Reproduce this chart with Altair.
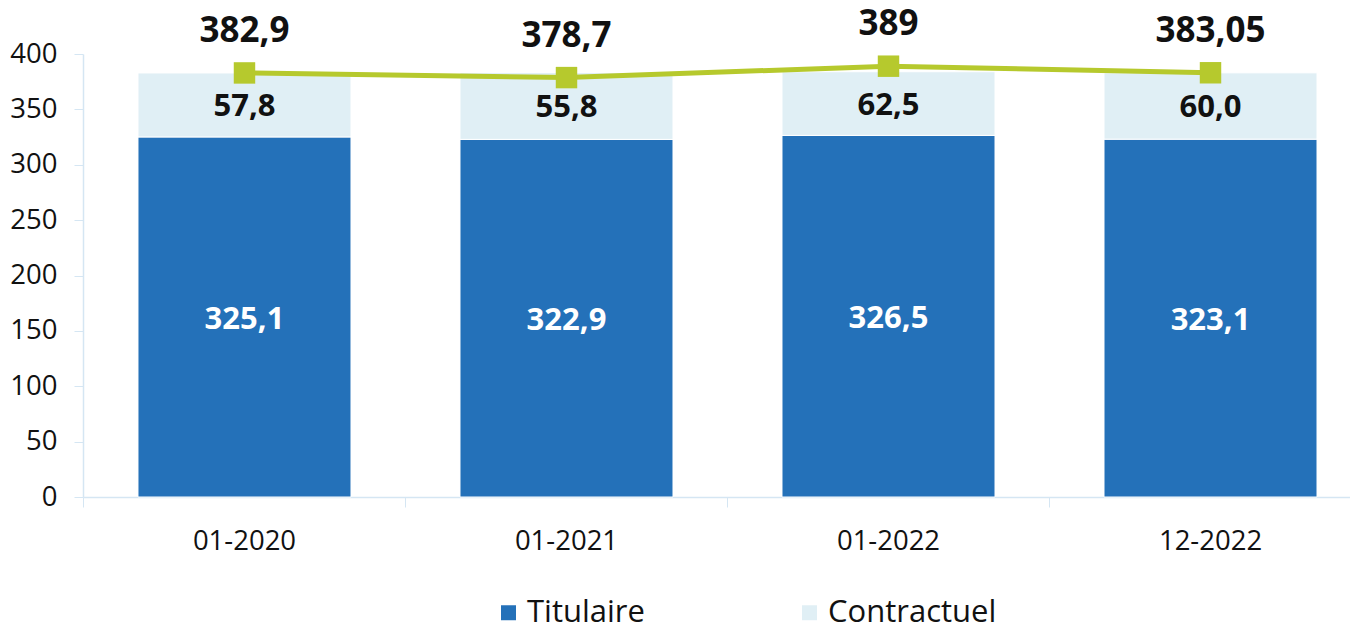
import altair as alt
import pandas as pd

categories = ["01-2020", "01-2021", "01-2022", "12-2022"]
titulaire = [325.1, 322.9, 326.5, 323.1]
contractuel = [57.8, 55.8, 62.5, 60.0]          # values printed on the chart
contractuel_bar = [57.8, 60.3, 57.5, 59.9]      # segment heights as drawn in the picture
totals = [382.9, 378.7, 389, 383.05]
series = ["Titulaire", "Contractuel"]
colors = ["#2471b9", "#e0eff5"]
line_color = "#b6c92d"
axis_color = "#d5e6f3"
FONT = "Open Sans"

PAD_INNER = 0.3385


def fr1(v):
    return f"{v:.1f}".replace(".", ",")


def fr(v):
    return str(v).replace(".", ",")


bar_rows = []
for i, c in enumerate(categories):
    bar_rows.append({"cat": c, "serie": "Titulaire", "value": titulaire[i], "ord": 0})
    bar_rows.append({"cat": c, "serie": "Contractuel", "value": contractuel_bar[i], "ord": 1})
bars_df = pd.DataFrame(bar_rows)

lab_df = pd.DataFrame({
    "cat": categories,
    "tit_mid": [t / 2 for t in titulaire],
    "tit_label": [fr1(t) for t in titulaire],
    "con_mid": [t + c / 2 for t, c in zip(titulaire, contractuel_bar)],
    "con_label": [fr1(c) for c in contractuel],
    "total": totals,
    "total_label": [fr(t) for t in totals],
})

x = alt.X(
    "cat:N",
    sort=categories,
    scale=alt.Scale(paddingInner=PAD_INNER, paddingOuter=0.1366, align=0.625),
    axis=alt.Axis(
        title=None, labelAngle=0,
        bandPosition=-(PAD_INNER / 2) / (1 - PAD_INNER),
        labelFontSize=27.5,
        labelFont=FONT, labelColor="#111111", labelPadding=20,
        tickSize=10, tickColor=axis_color, domainColor=axis_color,
        tickWidth=1, domainWidth=1.5,
    ),
)

yscale = alt.Scale(domain=[0, 400], nice=False)

bars = alt.Chart(bars_df).mark_bar(stroke="white", strokeWidth=1).encode(
    x=x,
    y=alt.Y(
        "value:Q", stack="zero", scale=yscale,
        axis=alt.Axis(
            title=None, values=list(range(0, 401, 50)), grid=False,
            labelFontSize=27.5, labelFont=FONT, labelColor="#111111",
            labelPadding=17, tickSize=9, tickColor=axis_color,
            domainColor=axis_color, domainWidth=1.5,
        ),
    ),
    color=alt.Color(
        "serie:N",
        scale=alt.Scale(domain=series, range=colors),
        legend=alt.Legend(
            title=None, orient="none", direction="horizontal",
            legendX=410, legendY=543, symbolType="square", symbolSize=225,
            symbolStrokeWidth=0, labelFontSize=31, labelFont=FONT,
            labelColor="#111111", labelOffset=3, columnPadding=149,
            labelLimit=400, padding=0,
        ),
    ),
    order=alt.Order("ord:Q"),
)

tit_text = alt.Chart(lab_df).mark_text(
    font=FONT, fontWeight="bold", fontSize=31, color="white", baseline="middle", dy=3
).encode(x=alt.X("cat:N", sort=categories), y=alt.Y("tit_mid:Q", scale=yscale), text="tit_label:N")

con_text = alt.Chart(lab_df).mark_text(
    font=FONT, fontWeight="bold", fontSize=31, color="#111111", baseline="middle", dy=2
).encode(x=alt.X("cat:N", sort=categories), y=alt.Y("con_mid:Q", scale=yscale), text="con_label:N")

line = alt.Chart(lab_df).mark_line(color=line_color, strokeWidth=5).encode(
    x=alt.X("cat:N", sort=categories), y=alt.Y("total:Q", scale=yscale)
)

points = alt.Chart(lab_df).mark_point(
    shape="square", filled=True, size=460, color=line_color, opacity=1
).encode(x=alt.X("cat:N", sort=categories), y=alt.Y("total:Q", scale=yscale))

tot_text = alt.Chart(lab_df).mark_text(
    font=FONT, fontWeight="bold", fontSize=35, color="#111111", baseline="middle", dy=-42
).encode(x=alt.X("cat:N", sort=categories), y=alt.Y("total:Q", scale=yscale), text="total_label:N")

chart = alt.layer(bars, tit_text, con_text, line, points, tot_text).properties(
    width=1267,
    height=443,
    autosize=alt.AutoSizeParams(type="none"),
    padding={"left": 75, "top": 46, "right": 0, "bottom": 130},
).configure_view(stroke=None)

chart.save("out.html", embed_options={"renderer": "svg", "actions": False})
